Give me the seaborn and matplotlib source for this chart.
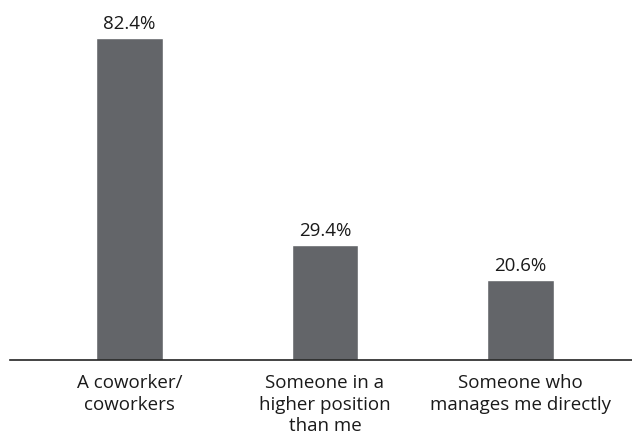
import matplotlib
matplotlib.use("Agg")
import matplotlib.pyplot as plt
import seaborn as sns
import pandas as pd

# Data
categories = ["A coworker/\ncoworkers", "Someone in a\nhigher position\nthan me", "Someone who\nmanages me directly"]
values = [82.4, 29.4, 20.6]
value_labels = ["82.4%", "29.4%", "20.6%"]

df = pd.DataFrame({"category": categories, "value": values})

sns.set_theme(style="white")
plt.rcParams["font.family"] = ["Open Sans", "DejaVu Sans"]

fig = plt.figure(figsize=(6.32, 4.43), dpi=100)
ax = fig.add_axes([0.016, 0.187, 0.984, 0.79])

sns.barplot(data=df, x="category", y="value", color="#636569", width=0.34,
            saturation=1, ax=ax)

for i, (v, lab) in enumerate(zip(values, value_labels)):
    ax.text(i, v + 1.3, lab, ha="center", va="bottom", fontsize=13.5, color="#1a1a1a")

ax.set_xlim(-0.61, 2.57)
ax.set_ylim(0, 89.5)
ax.set_xlabel("")
ax.set_ylabel("")
ax.set_yticks([])
ax.tick_params(axis="x", length=0, pad=10, labelsize=13.5, labelcolor="#1a1a1a")
for lbl in ax.get_xticklabels():
    lbl.set_linespacing(1.25)
for s in ["top", "right", "left"]:
    ax.spines[s].set_visible(False)
ax.spines["bottom"].set_color("#222222")
ax.spines["bottom"].set_linewidth(1.2)

fig.savefig("out.png", dpi=100)
